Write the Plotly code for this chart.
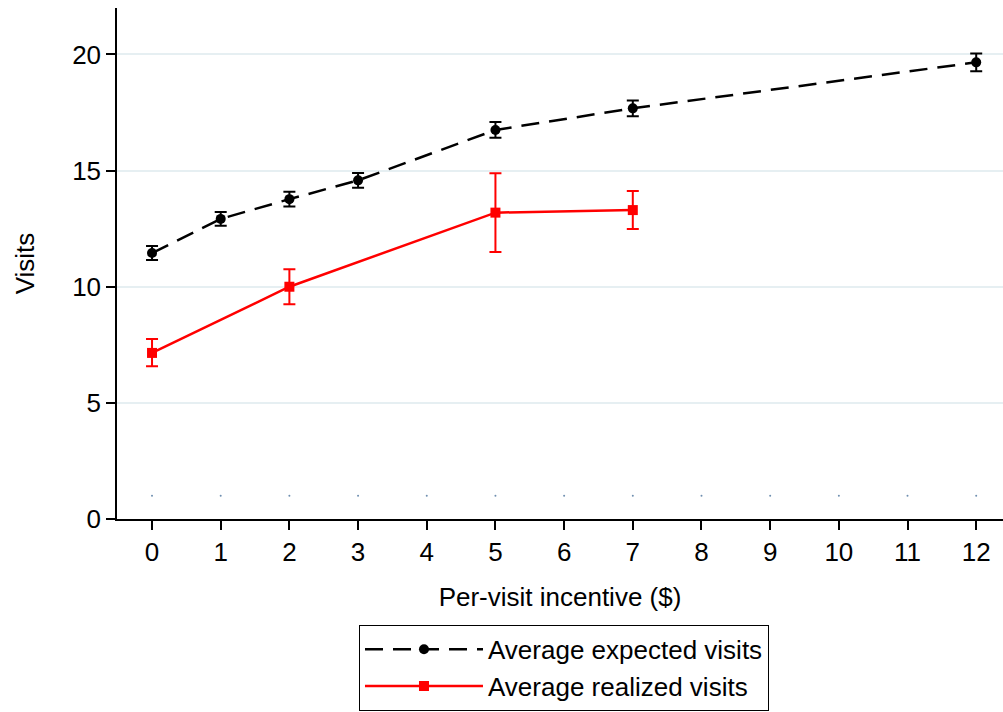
import plotly.graph_objects as go

# Data
x_expected = [0, 1, 2, 3, 5, 7, 12]
y_expected = [11.45, 12.92, 13.77, 14.58, 16.75, 17.68, 19.66]
err_expected = [0.30, 0.30, 0.32, 0.32, 0.34, 0.34, 0.38]

x_realized = [0, 2, 5, 7]
y_realized = [7.15, 10.0, 13.19, 13.3]
err_realized_plus = [0.60, 0.75, 1.70, 0.82]
err_realized_minus = [0.57, 0.75, 1.70, 0.82]

tick_vals = list(range(0, 13))
marker_row_y = [1] * len(tick_vals)

FONT = "Liberation Sans, Arial, sans-serif"

fig = go.Figure()

fig.add_trace(go.Scatter(
    x=tick_vals, y=marker_row_y, mode="markers",
    marker=dict(size=2, color="#6f8fb0"),
    showlegend=False, hoverinfo="skip"))

fig.add_trace(go.Scatter(
    x=x_expected, y=y_expected, mode="lines+markers",
    name="Average expected visits",
    line=dict(color="black", width=2.5, dash="18px,10px"),
    marker=dict(symbol="circle", size=10, color="black"),
    error_y=dict(type="data", array=err_expected, visible=True,
                 color="black", thickness=2, width=6)))

fig.add_trace(go.Scatter(
    x=x_realized, y=y_realized, mode="lines+markers",
    name="Average realized visits",
    line=dict(color="red", width=2.5),
    marker=dict(symbol="square", size=10, color="red"),
    error_y=dict(type="data", symmetric=False, array=err_realized_plus,
                 arrayminus=err_realized_minus, visible=True,
                 color="red", thickness=2, width=6)))

fig.update_layout(
    width=1003, height=712,
    margin=dict(l=117, r=0, t=8, b=193),
    paper_bgcolor="white", plot_bgcolor="white",
    font=dict(family=FONT, size=26, color="black"),
    xaxis=dict(
        range=[-0.51, 12.39], tickmode="array", tickvals=tick_vals,
        ticks="outside", ticklen=9, tickwidth=1.5, tickcolor="black",
        showline=True, linecolor="black", linewidth=1.5,
        showgrid=False, zeroline=False,
        title=dict(text="Per-visit incentive ($)", standoff=22, font=dict(size=26)),
        tickfont=dict(size=26)),
    yaxis=dict(
        range=[0, 22], tickmode="array", tickvals=[0, 5, 10, 15, 20],
        ticks="outside", ticklen=9, tickwidth=1.5, tickcolor="black",
        showline=True, linecolor="black", linewidth=1.5,
        showgrid=True, gridcolor="#e6eff2", gridwidth=2,
        zeroline=False,
        title=dict(text="Visits", standoff=30, font=dict(size=26)),
        tickfont=dict(size=26)),
    legend=dict(
        x=0.5045, xanchor="center", y=-0.207, yanchor="top",
        orientation="v", bordercolor="black", borderwidth=1,
        bgcolor="white", font=dict(size=26), itemwidth=118,
        tracegroupgap=0),
)

fig.write_html("out.html")
